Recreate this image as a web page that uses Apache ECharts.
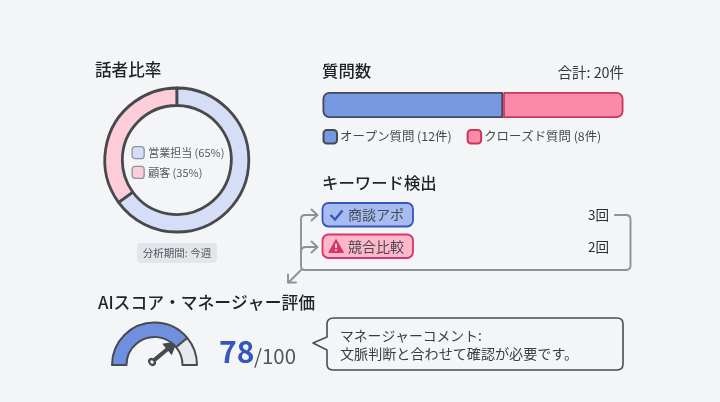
<!DOCTYPE html>
<html>
<head>
<meta charset="utf-8">
<script src="https://cdn.jsdelivr.net/npm/echarts@6/dist/echarts.min.js"></script>
<style>
  html, body { margin: 0; padding: 0; background: #f3f5f7; }
  #chart { width: 720px; height: 402px; }
</style>
</head>
<body>
<div id="chart"></div>
<script>
// Call summary dashboard: speaker share, question counts, keywords and score.
const speakerNames = ['営業担当', '顧客'];
const speakerShares = [65, 35];
const questionNames = ['オープン質問', 'クローズド質問'];
const questionCounts = [12, 8];
const keywordNames = ['商談アポ', '競合比較'];
const keywordCounts = [3, 2];
const scoreValue = 78;
const scoreMax = 100;
const commentLines = ['マネージャーコメント:', '文脈判断と合わせて確認が必要です。'];

const FONT = '"Noto Sans CJK JP", "Noto Sans", sans-serif';
const PAGE = '#f3f5f7';
const questionTotal = questionCounts.reduce((a, b) => a + b, 0);

const speakerLabels = speakerNames.map((n, i) => `${n} (${speakerShares[i]}%)`);
const questionLabels = questionNames.map((n, i) => `${n} (${questionCounts[i]}件)`);
const speakerFill = ['#d5def6', '#fdcdd9'];
const questionFill = ['#7598e0', '#fb8aa8'];
const questionEdge = ['#454b55', '#c8375f'];

function txt(x, y, text, size, color, extra) {
  return {
    type: 'text', x, y, silent: true,
    style: Object.assign({
      text, fontSize: size, fill: color, fontFamily: FONT,
      verticalAlign: 'middle', textAlign: 'left'
    }, extra || {})
  };
}
function heading(x, y, text, size) {
  return txt(x, y, text, size || 16.4, '#1f2226', { fontWeight: 500 });
}
function pathEl(d, style) {
  return { type: 'path', silent: true, shape: { pathData: d }, style };
}

const chips = [
  { y: 203, fill: '#a7bdf1', edge: '#3557bd' },
  { y: 234.5, fill: '#ffb7c9', edge: '#d7356b' }
];
const chipGraphics = [];
keywordNames.forEach((name, i) => {
  const c = chips[i];
  chipGraphics.push({
    type: 'rect', silent: true,
    shape: { x: 322.5, y: c.y, width: 90.5, height: 23.5, r: 6 },
    style: { fill: c.fill, stroke: c.edge, lineWidth: 1.8 }
  });
  chipGraphics.push(txt(348, c.y + 12, name, 14, '#454a52'));
  chipGraphics.push(txt(609, c.y + 12, keywordCounts[i] + '回', 13.5, '#2b2e33', { textAlign: 'right' }));
});

const arrowStyle = { fill: 'none', stroke: '#8d9299', lineWidth: 1.9, lineCap: 'round', lineJoin: 'round' };
const connector = d => pathEl(d, arrowStyle);

const annotations = [
  heading(95, 70, '話者比率', 16.6),
  heading(322, 71, '質問数'),
  txt(624, 73, `合計: ${questionTotal}件`, 14.4, '#33373c', { textAlign: 'right' }),
  heading(322, 183, 'キーワード検出'),
  heading(98, 303, 'AIスコア・マネージャー評価', 16.8),

  // period tag under the donut
  { type: 'rect', silent: true, shape: { x: 137, y: 243, width: 80, height: 20, r: 4 }, style: { fill: '#e2e5ea' } },
  txt(177, 253.5, '分析期間: 今週', 10.5, '#50555b', { textAlign: 'center' }),

  ...chipGraphics,
  // check and warning glyphs inside the keyword chips
  pathEl('M330.5 215 L335 219.5 L342.5 210.5', { fill: 'none', stroke: '#3557bd', lineWidth: 2.4 }),
  pathEl('M336 239.5 L343.5 252.5 L328.8 252.5 Z', { fill: '#d7356b', stroke: '#d7356b', lineWidth: 1, lineJoin: 'round' }),
  pathEl('M336 243.8 L336 248 M336 249.6 L336 251', { fill: 'none', stroke: '#fff', lineWidth: 1.5 }),

  // connectors looping from the counts back around the chips
  connector('M615 215 L626 215 Q630.5 215 630.5 219.5 L630.5 265.5 Q630.5 270 626 270 L305 270 Q301 270 301 266 L301 219.5 Q301 215 305 215 L317 215'),
  connector('M311.5 209.5 L317.5 215 L311.5 220.5'),
  connector('M301 252 Q301 247 306 247 L317 247'),
  connector('M311.5 241.5 L317.5 247 L311.5 252.5'),
  connector('M301 270 L288.5 282.5'),
  connector('M288 274.5 L288 282.5 L296 282.5'),

  // score readout
  txt(219, 352, String(scoreValue), 30, '#3557bd', { fontWeight: 700 }),
  txt(254, 356.5, '/' + scoreMax, 20.4, '#50555b'),

  // comment bubble
  pathEl('M334 318 L617 318 Q623 318 623 324 L623 364 Q623 370 617 370 L333 370 Q327 370 327 364 L327 350 L313 343 L327 337 L327 324 Q327 318 334 318 Z',
    { fill: PAGE, stroke: '#4a4d52', lineWidth: 1.6, lineJoin: 'round' }),
  txt(340, 335.5, commentLines[0], 13.8, '#3a3e43'),
  txt(340, 354, commentLines[1], 14.1, '#3a3e43')
];

const option = {
  animation: false,
  backgroundColor: PAGE,
  textStyle: { fontFamily: FONT },
  legend: [
    {
      data: speakerLabels, orient: 'vertical', left: 131.5, top: 146,
      itemWidth: 12, itemHeight: 12, itemGap: 6.5, icon: 'roundRect', selectedMode: false,
      itemStyle: { borderColor: '#8d93a3', borderWidth: 1.3 },
      padding: 0, textStyle: { fontSize: 11, color: '#555a60', fontFamily: FONT, padding: [0, 0, 0, -1] }
    },
    {
      data: questionLabels, orient: 'horizontal', left: 322.5, top: 129,
      itemWidth: 13.5, itemHeight: 13.5, itemGap: 15, icon: 'roundRect', selectedMode: false,
      padding: 0, textStyle: { fontSize: 12.4, color: '#44484e', fontFamily: FONT, padding: [0, 0, 0, -2] }
    }
  ],
  grid: { left: 322.5, top: 92, width: 301, height: 26, containLabel: false },
  xAxis: { type: 'value', min: 0, max: questionTotal, show: false },
  yAxis: { type: 'category', data: ['質問'], show: false },
  series: [
    {
      // speaker share donut
      type: 'pie', center: [176.8, 160], radius: [54.5, 72], startAngle: 90, clockwise: true,
      silent: true, label: { show: false }, labelLine: { show: false },
      data: speakerLabels.map((name, i) => ({
        name, value: speakerShares[i],
        itemStyle: { color: speakerFill[i], borderColor: '#47494d', borderWidth: 2.8 }
      }))
    },
    // question split as one stacked bar
    ...questionLabels.map((name, i) => ({
      type: 'bar', name, stack: 'questions', barWidth: 26, silent: true,
      data: [questionCounts[i]],
      itemStyle: {
        color: questionFill[i], borderColor: questionEdge[i], borderWidth: 1.8,
        borderRadius: i === 0 ? [6, 0, 0, 6] : [0, 6, 6, 0]
      }
    })),
    {
      // score arc
      type: 'pie', center: [154.5, 365], radius: [28, 42.5], startAngle: 180, endAngle: 0,
      silent: true, label: { show: false }, labelLine: { show: false },
      data: [
        { name: 'スコア', value: scoreValue, itemStyle: { color: '#6f90de', borderColor: '#474a4f', borderWidth: 2 } },
        { name: '残り', value: scoreMax - scoreValue, itemStyle: { color: '#e7e9ee', borderColor: '#474a4f', borderWidth: 2 } }
      ]
    },
    {
      // score needle: arrow head, shaft and hollow hub
      type: 'gauge', center: [149.3, 364.2], radius: 36, startAngle: 180, endAngle: 0,
      min: 0, max: scoreMax, silent: true,
      axisLine: { show: false }, axisTick: { show: false }, splitLine: { show: false },
      axisLabel: { show: false }, detail: { show: false }, title: { show: false }, anchor: { show: false },
      pointer: {
        icon: 'path://M6 0 L12 13 L7.6 13 L7.6 30 L4.4 30 L4.4 13 L0 13 Z M6 29 A3.5 3.5 0 1 1 6 36 A3.5 3.5 0 1 1 6 29 Z M6 31 A1.5 1.5 0 1 0 6 34 A1.5 1.5 0 1 0 6 31 Z',
        length: 36, width: 15, keepAspect: false, offsetCenter: [0, 0],
        itemStyle: { color: '#454a4f' }
      },
      data: [{ value: scoreValue }]
    },
    {
      // headings, tags, keyword chips, connectors and the comment bubble
      type: 'custom', coordinateSystem: 'none', silent: true, data: [0],
      renderItem: () => ({ type: 'group', children: annotations })
    }
  ]
};

echarts.init(document.getElementById('chart'), null, { renderer: 'canvas' }).setOption(option);
</script>
</body>
</html>
